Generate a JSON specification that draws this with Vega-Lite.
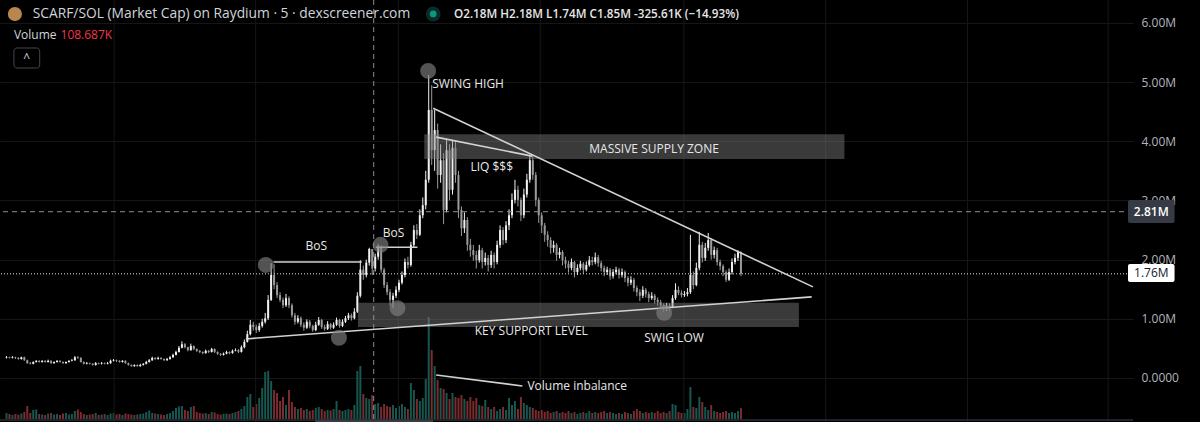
{
"$schema":"https://vega.github.io/schema/vega-lite/v6.json",
"width":1133,"height":422,
"autosize":{"type":"none"},
"padding":{"left":0,"top":0,"right":67,"bottom":0},
"background":"#000000",
"config":{"view":{"stroke":null},"font":"Open Sans"},
"datasets":{
"candles":[
{"i":0,"o":0.34,"h":0.37,"l":0.33,"c":0.35,"v":60},{"i":1,"o":0.35,"h":0.36,"l":0.33,"c":0.34,"v":50},{"i":2,"o":0.34,"h":0.37,"l":0.33,"c":0.35,"v":40},{"i":3,"o":0.35,"h":0.36,"l":0.32,"c":0.34,"v":50},{"i":4,"o":0.34,"h":0.35,"l":0.31,"c":0.32,"v":45},{"i":5,"o":0.32,"h":0.36,"l":0.31,"c":0.35,"v":55},{"i":6,"o":0.35,"h":0.36,"l":0.29,"c":0.30,"v":70},{"i":7,"o":0.30,"h":0.31,"l":0.24,"c":0.25,"v":130},{"i":8,"o":0.25,"h":0.27,"l":0.23,"c":0.24,"v":60},{"i":9,"o":0.24,"h":0.28,"l":0.23,"c":0.27,"v":90},
{"i":10,"o":0.27,"h":0.30,"l":0.26,"c":0.29,"v":95},{"i":11,"o":0.29,"h":0.30,"l":0.26,"c":0.27,"v":50},{"i":12,"o":0.27,"h":0.30,"l":0.26,"c":0.29,"v":45},{"i":13,"o":0.29,"h":0.30,"l":0.26,"c":0.27,"v":40},{"i":14,"o":0.27,"h":0.31,"l":0.26,"c":0.29,"v":55},{"i":15,"o":0.29,"h":0.30,"l":0.24,"c":0.25,"v":60},{"i":16,"o":0.25,"h":0.28,"l":0.24,"c":0.27,"v":45},{"i":17,"o":0.27,"h":0.30,"l":0.26,"c":0.29,"v":50},{"i":18,"o":0.29,"h":0.30,"l":0.26,"c":0.27,"v":40},{"i":19,"o":0.27,"h":0.28,"l":0.24,"c":0.25,"v":55},
{"i":20,"o":0.25,"h":0.28,"l":0.24,"c":0.27,"v":60},{"i":21,"o":0.27,"h":0.30,"l":0.26,"c":0.29,"v":45},{"i":22,"o":0.29,"h":0.32,"l":0.28,"c":0.30,"v":50},{"i":23,"o":0.30,"h":0.37,"l":0.29,"c":0.35,"v":80},{"i":24,"o":0.35,"h":0.37,"l":0.32,"c":0.34,"v":95},{"i":25,"o":0.34,"h":0.35,"l":0.26,"c":0.27,"v":70},{"i":26,"o":0.27,"h":0.28,"l":0.23,"c":0.24,"v":50},{"i":27,"o":0.24,"h":0.27,"l":0.23,"c":0.25,"v":40},{"i":28,"o":0.25,"h":0.26,"l":0.23,"c":0.24,"v":45},{"i":29,"o":0.24,"h":0.25,"l":0.21,"c":0.22,"v":50},
{"i":30,"o":0.22,"h":0.27,"l":0.21,"c":0.25,"v":60},{"i":31,"o":0.25,"h":0.26,"l":0.23,"c":0.24,"v":40},{"i":32,"o":0.24,"h":0.27,"l":0.23,"c":0.25,"v":45},{"i":33,"o":0.25,"h":0.26,"l":0.23,"c":0.24,"v":50},{"i":34,"o":0.24,"h":0.27,"l":0.23,"c":0.25,"v":40},{"i":35,"o":0.25,"h":0.31,"l":0.24,"c":0.29,"v":55},{"i":36,"o":0.29,"h":0.32,"l":0.28,"c":0.30,"v":60},{"i":37,"o":0.30,"h":0.31,"l":0.27,"c":0.29,"v":45},{"i":38,"o":0.29,"h":0.30,"l":0.26,"c":0.27,"v":50},{"i":39,"o":0.27,"h":0.30,"l":0.26,"c":0.29,"v":40},
{"i":40,"o":0.29,"h":0.30,"l":0.24,"c":0.25,"v":55},{"i":41,"o":0.25,"h":0.26,"l":0.21,"c":0.22,"v":50},{"i":42,"o":0.22,"h":0.23,"l":0.19,"c":0.20,"v":45},{"i":43,"o":0.20,"h":0.23,"l":0.19,"c":0.22,"v":40},{"i":44,"o":0.22,"h":0.23,"l":0.19,"c":0.20,"v":45},{"i":45,"o":0.20,"h":0.24,"l":0.19,"c":0.22,"v":50},{"i":46,"o":0.22,"h":0.25,"l":0.21,"c":0.24,"v":55},{"i":47,"o":0.24,"h":0.29,"l":0.23,"c":0.27,"v":70},{"i":48,"o":0.27,"h":0.32,"l":0.26,"c":0.30,"v":85},{"i":49,"o":0.30,"h":0.36,"l":0.29,"c":0.34,"v":60},
{"i":50,"o":0.34,"h":0.35,"l":0.31,"c":0.32,"v":55},{"i":51,"o":0.32,"h":0.36,"l":0.31,"c":0.34,"v":50},{"i":52,"o":0.34,"h":0.35,"l":0.31,"c":0.32,"v":45},{"i":53,"o":0.32,"h":0.33,"l":0.29,"c":0.30,"v":40},{"i":54,"o":0.30,"h":0.34,"l":0.29,"c":0.32,"v":50},{"i":55,"o":0.32,"h":0.37,"l":0.31,"c":0.35,"v":60},{"i":56,"o":0.35,"h":0.41,"l":0.34,"c":0.39,"v":80},{"i":57,"o":0.39,"h":0.46,"l":0.38,"c":0.44,"v":110},{"i":58,"o":0.44,"h":0.54,"l":0.43,"c":0.51,"v":125},{"i":59,"o":0.51,"h":0.62,"l":0.50,"c":0.57,"v":130},
{"i":60,"o":0.57,"h":0.59,"l":0.50,"c":0.52,"v":90},{"i":61,"o":0.52,"h":0.53,"l":0.45,"c":0.47,"v":80},{"i":62,"o":0.47,"h":0.58,"l":0.46,"c":0.54,"v":120},{"i":63,"o":0.54,"h":0.55,"l":0.47,"c":0.49,"v":130},{"i":64,"o":0.49,"h":0.50,"l":0.44,"c":0.46,"v":70},{"i":65,"o":0.46,"h":0.47,"l":0.42,"c":0.44,"v":60},{"i":66,"o":0.44,"h":0.45,"l":0.40,"c":0.42,"v":55},{"i":67,"o":0.42,"h":0.48,"l":0.41,"c":0.46,"v":60},{"i":68,"o":0.46,"h":0.47,"l":0.42,"c":0.44,"v":50},{"i":69,"o":0.44,"h":0.51,"l":0.43,"c":0.49,"v":70},
{"i":70,"o":0.49,"h":0.50,"l":0.42,"c":0.44,"v":65},{"i":71,"o":0.44,"h":0.45,"l":0.39,"c":0.41,"v":50},{"i":72,"o":0.41,"h":0.42,"l":0.37,"c":0.39,"v":45},{"i":73,"o":0.39,"h":0.43,"l":0.38,"c":0.41,"v":50},{"i":74,"o":0.41,"h":0.46,"l":0.40,"c":0.44,"v":55},{"i":75,"o":0.44,"h":0.45,"l":0.40,"c":0.42,"v":50},{"i":76,"o":0.42,"h":0.48,"l":0.41,"c":0.46,"v":60},{"i":77,"o":0.46,"h":0.50,"l":0.45,"c":0.47,"v":70},{"i":78,"o":0.47,"h":0.49,"l":0.42,"c":0.44,"v":80},{"i":79,"o":0.44,"h":0.55,"l":0.43,"c":0.52,"v":100},
{"i":80,"o":0.52,"h":0.65,"l":0.50,"c":0.61,"v":130},{"i":81,"o":0.61,"h":0.80,"l":0.60,"c":0.74,"v":220},{"i":82,"o":0.74,"h":0.98,"l":0.72,"c":0.90,"v":250},{"i":83,"o":0.90,"h":0.95,"l":0.80,"c":0.86,"v":120},{"i":84,"o":0.86,"h":0.90,"l":0.76,"c":0.81,"v":150},{"i":85,"o":0.81,"h":0.93,"l":0.78,"c":0.88,"v":210},{"i":86,"o":0.88,"h":1.00,"l":0.85,"c":0.95,"v":310},{"i":87,"o":0.95,"h":1.10,"l":0.92,"c":1.01,"v":470},{"i":88,"o":1.01,"h":1.40,"l":0.98,"c":1.32,"v":480},{"i":89,"o":1.32,"h":1.94,"l":1.30,"c":1.74,"v":380},
{"i":90,"o":1.74,"h":1.92,"l":1.50,"c":1.57,"v":290},{"i":91,"o":1.57,"h":1.62,"l":1.35,"c":1.40,"v":260},{"i":92,"o":1.40,"h":1.45,"l":1.28,"c":1.32,"v":180},{"i":93,"o":1.32,"h":1.36,"l":1.18,"c":1.23,"v":220},{"i":94,"o":1.23,"h":1.42,"l":1.20,"c":1.35,"v":140},{"i":95,"o":1.35,"h":1.38,"l":1.18,"c":1.23,"v":290},{"i":96,"o":1.23,"h":1.26,"l":1.02,"c":1.06,"v":170},{"i":97,"o":1.06,"h":1.10,"l":0.90,"c":0.95,"v":120},{"i":98,"o":0.95,"h":1.06,"l":0.92,"c":1.01,"v":100},{"i":99,"o":1.01,"h":1.04,"l":0.86,"c":0.90,"v":110},
{"i":100,"o":0.90,"h":0.94,"l":0.80,"c":0.85,"v":90},{"i":101,"o":0.85,"h":0.99,"l":0.83,"c":0.95,"v":100},{"i":102,"o":0.95,"h":0.98,"l":0.84,"c":0.88,"v":80},{"i":103,"o":0.88,"h":0.90,"l":0.78,"c":0.81,"v":90},{"i":104,"o":0.81,"h":0.95,"l":0.79,"c":0.90,"v":110},{"i":105,"o":0.90,"h":1.03,"l":0.88,"c":0.98,"v":120},{"i":106,"o":0.98,"h":1.00,"l":0.83,"c":0.86,"v":100},{"i":107,"o":0.86,"h":0.90,"l":0.80,"c":0.83,"v":80},{"i":108,"o":0.83,"h":0.96,"l":0.81,"c":0.91,"v":90},{"i":109,"o":0.91,"h":0.93,"l":0.82,"c":0.85,"v":85},
{"i":110,"o":0.85,"h":0.94,"l":0.83,"c":0.90,"v":100},{"i":111,"o":0.90,"h":1.02,"l":0.88,"c":0.98,"v":180},{"i":112,"o":0.98,"h":1.00,"l":0.85,"c":0.88,"v":90},{"i":113,"o":0.88,"h":0.99,"l":0.86,"c":0.95,"v":80},{"i":114,"o":0.95,"h":1.05,"l":0.93,"c":1.01,"v":90},{"i":115,"o":1.01,"h":1.10,"l":0.98,"c":1.06,"v":100},{"i":116,"o":1.06,"h":1.09,"l":0.97,"c":1.01,"v":90},{"i":117,"o":1.01,"h":1.18,"l":0.99,"c":1.12,"v":140},{"i":118,"o":1.12,"h":1.45,"l":1.10,"c":1.39,"v":480},{"i":119,"o":1.39,"h":1.99,"l":1.36,"c":1.83,"v":530},
{"i":120,"o":1.83,"h":1.90,"l":1.66,"c":1.74,"v":250},{"i":121,"o":1.74,"h":2.00,"l":1.70,"c":1.95,"v":210},{"i":122,"o":1.95,"h":2.20,"l":1.90,"c":2.18,"v":200},{"i":123,"o":2.18,"h":2.18,"l":1.74,"c":1.85,"v":240},{"i":124,"o":1.85,"h":2.10,"l":1.80,"c":2.05,"v":150},{"i":125,"o":2.05,"h":2.26,"l":2.00,"c":2.22,"v":160},{"i":126,"o":2.22,"h":2.24,"l":1.78,"c":1.83,"v":120},{"i":127,"o":1.83,"h":1.86,"l":1.52,"c":1.57,"v":150},{"i":128,"o":1.57,"h":1.62,"l":1.40,"c":1.45,"v":130},{"i":129,"o":1.45,"h":1.50,"l":1.22,"c":1.32,"v":120},
{"i":130,"o":1.32,"h":1.44,"l":1.18,"c":1.39,"v":140},{"i":131,"o":1.39,"h":1.55,"l":1.35,"c":1.49,"v":110},{"i":132,"o":1.49,"h":1.66,"l":1.45,"c":1.61,"v":130},{"i":133,"o":1.61,"h":1.80,"l":1.58,"c":1.74,"v":150},{"i":134,"o":1.74,"h":2.02,"l":1.70,"c":1.96,"v":120},{"i":135,"o":1.96,"h":2.05,"l":1.85,"c":1.91,"v":100},{"i":136,"o":1.91,"h":2.30,"l":1.88,"c":2.25,"v":360},{"i":137,"o":2.25,"h":2.58,"l":2.20,"c":2.50,"v":290},{"i":138,"o":2.50,"h":2.60,"l":2.35,"c":2.42,"v":200},{"i":139,"o":2.42,"h":2.85,"l":2.40,"c":2.75,"v":180},
{"i":140,"o":2.75,"h":3.05,"l":2.70,"c":2.92,"v":210},{"i":141,"o":2.92,"h":3.50,"l":2.85,"c":3.35,"v":400},{"i":142,"o":3.35,"h":5.12,"l":3.30,"c":4.53,"v":1020},{"i":143,"o":4.53,"h":4.95,"l":3.60,"c":3.85,"v":690},{"i":144,"o":3.85,"h":4.53,"l":3.50,"c":4.19,"v":530},{"i":145,"o":4.19,"h":4.30,"l":3.20,"c":3.43,"v":390},{"i":146,"o":3.43,"h":3.95,"l":3.30,"c":3.68,"v":310},{"i":147,"o":3.68,"h":3.80,"l":2.60,"c":2.84,"v":300},{"i":148,"o":2.84,"h":4.02,"l":2.80,"c":3.85,"v":260},{"i":149,"o":3.85,"h":3.95,"l":3.00,"c":3.18,"v":200},
{"i":150,"o":3.18,"h":4.02,"l":3.10,"c":3.89,"v":260},{"i":151,"o":3.89,"h":4.00,"l":3.30,"c":3.43,"v":220},{"i":152,"o":3.43,"h":3.50,"l":2.70,"c":2.84,"v":210},{"i":153,"o":2.84,"h":2.90,"l":2.40,"c":2.53,"v":240},{"i":154,"o":2.53,"h":2.80,"l":2.45,"c":2.67,"v":200},{"i":155,"o":2.67,"h":2.72,"l":2.15,"c":2.25,"v":180},{"i":156,"o":2.25,"h":2.35,"l":2.05,"c":2.16,"v":220},{"i":157,"o":2.16,"h":2.25,"l":1.98,"c":2.08,"v":180},{"i":158,"o":2.08,"h":2.15,"l":1.85,"c":1.99,"v":210},{"i":159,"o":1.99,"h":2.25,"l":1.95,"c":2.16,"v":140},
{"i":160,"o":2.16,"h":2.20,"l":1.85,"c":1.96,"v":130},{"i":161,"o":1.96,"h":2.12,"l":1.90,"c":2.03,"v":190},{"i":162,"o":2.03,"h":2.08,"l":1.80,"c":1.91,"v":120},{"i":163,"o":1.91,"h":2.15,"l":1.86,"c":2.08,"v":100},{"i":164,"o":2.08,"h":2.12,"l":1.85,"c":1.96,"v":120},{"i":165,"o":1.96,"h":2.32,"l":1.92,"c":2.25,"v":80},{"i":166,"o":2.25,"h":2.58,"l":2.20,"c":2.50,"v":100},{"i":167,"o":2.50,"h":2.55,"l":2.25,"c":2.33,"v":120},{"i":168,"o":2.33,"h":2.65,"l":2.28,"c":2.58,"v":90},{"i":169,"o":2.58,"h":2.85,"l":2.50,"c":2.75,"v":210},
{"i":170,"o":2.75,"h":3.12,"l":2.70,"c":3.01,"v":140},{"i":171,"o":3.01,"h":3.35,"l":2.95,"c":3.18,"v":180},{"i":172,"o":3.18,"h":3.25,"l":2.90,"c":3.01,"v":100},{"i":173,"o":3.01,"h":3.05,"l":2.65,"c":2.75,"v":220},{"i":174,"o":2.75,"h":3.20,"l":2.70,"c":3.10,"v":160},{"i":175,"o":3.10,"h":3.45,"l":3.05,"c":3.35,"v":140},{"i":176,"o":3.35,"h":3.75,"l":3.30,"c":3.68,"v":120},{"i":177,"o":3.68,"h":3.77,"l":3.35,"c":3.43,"v":110},{"i":178,"o":3.43,"h":3.48,"l":2.90,"c":3.01,"v":90},{"i":179,"o":3.01,"h":3.05,"l":2.62,"c":2.75,"v":80},
{"i":180,"o":2.75,"h":2.80,"l":2.45,"c":2.58,"v":90},{"i":181,"o":2.58,"h":2.62,"l":2.30,"c":2.42,"v":70},{"i":182,"o":2.42,"h":2.48,"l":2.22,"c":2.33,"v":80},{"i":183,"o":2.33,"h":2.38,"l":2.10,"c":2.20,"v":60},{"i":184,"o":2.20,"h":2.32,"l":2.12,"c":2.25,"v":70},{"i":185,"o":2.25,"h":2.28,"l":1.98,"c":2.08,"v":80},{"i":186,"o":2.08,"h":2.20,"l":2.02,"c":2.13,"v":60},{"i":187,"o":2.13,"h":2.16,"l":1.90,"c":1.99,"v":70},{"i":188,"o":1.99,"h":2.05,"l":1.85,"c":1.93,"v":60},{"i":189,"o":1.93,"h":1.98,"l":1.78,"c":1.86,"v":80},
{"i":190,"o":1.86,"h":2.02,"l":1.82,"c":1.96,"v":60},{"i":191,"o":1.96,"h":1.98,"l":1.70,"c":1.79,"v":70},{"i":192,"o":1.79,"h":1.92,"l":1.74,"c":1.86,"v":50},{"i":193,"o":1.86,"h":1.98,"l":1.82,"c":1.93,"v":60},{"i":194,"o":1.93,"h":1.96,"l":1.76,"c":1.83,"v":70},{"i":195,"o":1.83,"h":1.97,"l":1.80,"c":1.91,"v":60},{"i":196,"o":1.91,"h":2.06,"l":1.88,"c":1.99,"v":80},{"i":197,"o":1.99,"h":2.05,"l":1.90,"c":1.96,"v":60},{"i":198,"o":1.96,"h":2.12,"l":1.92,"c":2.04,"v":70},{"i":199,"o":2.04,"h":2.08,"l":1.88,"c":1.94,"v":60},
{"i":200,"o":1.94,"h":1.98,"l":1.80,"c":1.86,"v":70},{"i":201,"o":1.86,"h":1.90,"l":1.72,"c":1.79,"v":80},{"i":202,"o":1.79,"h":1.88,"l":1.74,"c":1.83,"v":60},{"i":203,"o":1.83,"h":1.86,"l":1.66,"c":1.72,"v":70},{"i":204,"o":1.72,"h":1.84,"l":1.68,"c":1.79,"v":60},{"i":205,"o":1.79,"h":1.88,"l":1.75,"c":1.83,"v":50},{"i":206,"o":1.83,"h":1.86,"l":1.68,"c":1.74,"v":60},{"i":207,"o":1.74,"h":1.85,"l":1.70,"c":1.79,"v":50},{"i":208,"o":1.79,"h":1.82,"l":1.62,"c":1.69,"v":70},{"i":209,"o":1.69,"h":1.72,"l":1.55,"c":1.61,"v":60},
{"i":210,"o":1.61,"h":1.72,"l":1.57,"c":1.66,"v":50},{"i":211,"o":1.66,"h":1.69,"l":1.46,"c":1.52,"v":80},{"i":212,"o":1.52,"h":1.56,"l":1.38,"c":1.45,"v":100},{"i":213,"o":1.45,"h":1.50,"l":1.30,"c":1.39,"v":80},{"i":214,"o":1.39,"h":1.55,"l":1.35,"c":1.49,"v":60},{"i":215,"o":1.49,"h":1.52,"l":1.36,"c":1.42,"v":70},{"i":216,"o":1.42,"h":1.46,"l":1.28,"c":1.35,"v":60},{"i":217,"o":1.35,"h":1.45,"l":1.32,"c":1.39,"v":70},{"i":218,"o":1.39,"h":1.42,"l":1.26,"c":1.32,"v":60},{"i":219,"o":1.32,"h":1.36,"l":1.22,"c":1.28,"v":80},
{"i":220,"o":1.28,"h":1.32,"l":1.18,"c":1.23,"v":60},{"i":221,"o":1.23,"h":1.26,"l":1.12,"c":1.18,"v":70},{"i":222,"o":1.18,"h":1.27,"l":1.13,"c":1.22,"v":60},{"i":223,"o":1.22,"h":1.26,"l":1.14,"c":1.20,"v":80},{"i":224,"o":1.20,"h":1.40,"l":1.18,"c":1.35,"v":150},{"i":225,"o":1.35,"h":1.60,"l":1.32,"c":1.49,"v":140},{"i":226,"o":1.49,"h":1.55,"l":1.40,"c":1.44,"v":70},{"i":227,"o":1.44,"h":1.48,"l":1.36,"c":1.40,"v":60},{"i":228,"o":1.40,"h":1.47,"l":1.37,"c":1.42,"v":60},{"i":229,"o":1.42,"h":1.52,"l":1.38,"c":1.45,"v":100},
{"i":230,"o":1.45,"h":2.42,"l":1.42,"c":1.74,"v":320},{"i":231,"o":1.74,"h":1.80,"l":1.50,"c":1.57,"v":120},{"i":232,"o":1.57,"h":1.95,"l":1.55,"c":1.86,"v":110},{"i":233,"o":1.86,"h":2.47,"l":1.82,"c":2.25,"v":220},{"i":234,"o":2.25,"h":2.30,"l":1.95,"c":2.03,"v":170},{"i":235,"o":2.03,"h":2.28,"l":1.98,"c":2.20,"v":120},{"i":236,"o":2.20,"h":2.45,"l":2.15,"c":2.33,"v":90},{"i":237,"o":2.33,"h":2.36,"l":2.00,"c":2.08,"v":140},{"i":238,"o":2.08,"h":2.22,"l":2.02,"c":2.16,"v":80},{"i":239,"o":2.16,"h":2.20,"l":1.90,"c":1.96,"v":70},
{"i":240,"o":1.96,"h":2.00,"l":1.82,"c":1.89,"v":60},{"i":241,"o":1.89,"h":1.92,"l":1.72,"c":1.79,"v":70},{"i":242,"o":1.79,"h":1.82,"l":1.62,"c":1.66,"v":80},{"i":243,"o":1.66,"h":1.85,"l":1.64,"c":1.79,"v":60},{"i":244,"o":1.79,"h":2.02,"l":1.75,"c":1.96,"v":70},{"i":245,"o":1.96,"h":2.10,"l":1.92,"c":2.03,"v":60},{"i":246,"o":2.03,"h":2.16,"l":1.98,"c":2.13,"v":80},{"i":247,"o":2.13,"h":2.14,"l":1.72,"c":1.76,"v":109}
],
"vgrid":[{"x":36.2},{"x":83.8},{"x":131.8},{"x":179.5},{"x":227.8},{"x":275.5},{"x":323.2},{"x":370.5}],
"zones":[{"x1":140.5,"x2":281.8,"y1":4.12,"y2":3.70},{"x1":118.2,"x2":266.5,"y1":1.27,"y2":0.86}],
"segments":[
{"kind":"trend","x1":80.5,"y1":0.66,"x2":270.8,"y2":1.37},
{"kind":"trend","x1":143.5,"y1":4.56,"x2":271.2,"y2":1.54},
{"kind":"liq","x1":144.5,"y1":4.07,"x2":176.8,"y2":3.75},
{"kind":"bos","x1":89.8,"y1":1.96,"x2":119.5,"y2":1.96},
{"kind":"bos","x1":124.2,"y1":2.21,"x2":138.2,"y2":2.21},
{"kind":"vol","x1":144.5,"y1":0.05,"x2":173.5,"y2":-0.135}
],
"circles":[{"x":87.2,"y":1.91},{"x":125.8,"y":2.25},{"x":131.5,"y":1.18},{"x":111.8,"y":0.68},{"x":141.8,"y":5.19},{"x":221.2,"y":1.10}],
"labelsCenter":[
{"t":"BoS","x":104.2,"y":2.23},{"t":"BoS","x":130.2,"y":2.45},{"t":"LIQ $$$","x":163.2,"y":3.57},
{"t":"MASSIVE SUPPLY ZONE","x":217.8,"y":3.87},{"t":"KEY SUPPORT LEVEL","x":176.5,"y":0.79},{"t":"SWIG LOW","x":224.5,"y":0.68}
],
"labelsLeft":[{"t":"SWING HIGH","x":143.2,"y":4.97},{"t":"Volume inbalance","x":175.2,"y":-0.135}],
"header":[{"t":"SCARF/SOL (Market Cap) on Raydium · 5 · dexscreener.com","x":8.83,"y":6.152}],
"ohlc":[{"t":"O2.18M H2.18M L1.74M C1.85M -325.61K (−14.93%)","x":150.5,"y":6.152}],
"volname":[{"t":"Volume","x":2.5,"y":5.797}],
"volvalue":[{"t":"108.687K","x":18.17,"y":5.797}],
"button":[{"x1":2.5,"x2":11.17,"y1":5.577,"y2":5.239,"xm":6.83,"ym":5.40,"t":"^"}],
"coin":[{"x":2.83,"y":6.152}],
"live":[{"x":143.5,"y":6.152}],
"crossH":[{"y":2.81}],
"crossV":[{"x":123.5}],
"priceLine":[{"y":1.76}],
"bottom":[{"y":-0.71}],
"timebox":[{"x1":103.8,"x2":143.5,"y1":-0.70,"y2":-0.75}],
"badgeDark":[{"x1":377.17,"x2":392.83,"y1":3.008,"y2":2.62,"xm":385,"t":"2.81M","ym":2.81}],
"badgeLight":[{"x1":377.17,"x2":392.83,"y1":1.927,"y2":1.622,"xm":385,"t":"1.76M","ym":1.775}]
},
"layer":[
{
"data":{"name":"candles"},
"mark":{"type":"bar","size":2,"orient":"vertical"},
"encoding":{
"x":{"field":"i","type":"quantitative","scale":{"domain":[-0.5,377.17],"nice":false,"zero":false},"axis":null},
"y":{"field":"v","type":"quantitative","scale":{"domain":[-30,4190],"nice":false,"zero":false},"axis":null},
"y2":{"datum":0},
"color":{"condition":{"test":"datum.c >= datum.o","value":"#17574f"},"value":"#7c2b2e"}
}
},
{
"layer":[
{
"data":{"name":"vgrid"},
"mark":{"type":"rule","color":"#161616","strokeWidth":1},
"encoding":{"x":{"field":"x","type":"quantitative","scale":{"domain":[-0.5,377.17],"nice":false,"zero":false},"axis":null}}
},
{
"data":{"name":"candles"},
"mark":{"type":"rule","strokeWidth":1},
"encoding":{
"x":{"field":"i","type":"quantitative","scale":{"domain":[-0.5,377.17],"nice":false,"zero":false},"axis":null},
"y":{"field":"l","type":"quantitative","scale":{"domain":[-0.744,6.388],"nice":false,"zero":false},
"axis":{"orient":"right","values":[0,1,2,3,4,5,6],"labelExpr":"datum.value == 0 ? '0.0000' : format(datum.value, '.2f') + 'M'","grid":true,"gridColor":"#161616","domain":false,"ticks":false,"labelPadding":8,"labelColor":"#b2b5be","labelFontSize":12,"labelFont":"Open Sans","title":null,"labelBaseline":"middle"}},
"y2":{"field":"h"},
"color":{"condition":{"test":"datum.c >= datum.o","value":"#f0f0f0"},"value":"#9a9a9a"}
}
},
{
"data":{"name":"candles"},
"mark":{"type":"bar","size":2,"orient":"vertical"},
"encoding":{
"x":{"field":"i","type":"quantitative","scale":{"domain":[-0.5,377.17],"nice":false,"zero":false},"axis":null},
"y":{"field":"o","type":"quantitative","scale":{"domain":[-0.744,6.388],"nice":false,"zero":false}},
"y2":{"field":"c"},
"color":{"condition":{"test":"datum.c >= datum.o","value":"#f0f0f0"},"value":"#9a9a9a"}
}
},
{
"data":{"name":"zones"},
"mark":{"type":"rect","color":"#808080","opacity":0.45},
"encoding":{
"x":{"field":"x1","type":"quantitative","scale":{"domain":[-0.5,377.17],"nice":false,"zero":false},"axis":null},
"x2":{"field":"x2"},
"y":{"field":"y1","type":"quantitative","scale":{"domain":[-0.744,6.388],"nice":false,"zero":false}},
"y2":{"field":"y2"}
}
},
{
"data":{"name":"segments"},
"mark":{"type":"rule","strokeWidth":1.6,"color":"#d2d2d2"},
"encoding":{
"x":{"field":"x1","type":"quantitative","scale":{"domain":[-0.5,377.17],"nice":false,"zero":false},"axis":null},
"x2":{"field":"x2"},
"y":{"field":"y1","type":"quantitative","scale":{"domain":[-0.744,6.388],"nice":false,"zero":false}},
"y2":{"field":"y2"}
}
},
{
"data":{"name":"circles"},
"mark":{"type":"circle","size":254,"color":"#808080","opacity":0.65},
"encoding":{
"x":{"field":"x","type":"quantitative","scale":{"domain":[-0.5,377.17],"nice":false,"zero":false},"axis":null},
"y":{"field":"y","type":"quantitative","scale":{"domain":[-0.744,6.388],"nice":false,"zero":false}}
}
},
{
"data":{"name":"crossH"},
"mark":{"type":"rule","color":"#8a8d96","strokeDash":[5,4],"strokeWidth":1},
"encoding":{"y":{"field":"y","type":"quantitative","scale":{"domain":[-0.744,6.388],"nice":false,"zero":false}}}
},
{
"data":{"name":"crossV"},
"mark":{"type":"rule","color":"#8a8d96","strokeDash":[5,4],"strokeWidth":1},
"encoding":{"x":{"field":"x","type":"quantitative","scale":{"domain":[-0.5,377.17],"nice":false,"zero":false},"axis":null}}
},
{
"data":{"name":"priceLine"},
"mark":{"type":"rule","color":"#e0e0e0","strokeDash":[1,2],"strokeWidth":1},
"encoding":{"y":{"field":"y","type":"quantitative","scale":{"domain":[-0.744,6.388],"nice":false,"zero":false}}}
},
{
"data":{"name":"bottom"},
"mark":{"type":"rule","color":"#2a2e39","strokeWidth":1.5},
"encoding":{"y":{"field":"y","type":"quantitative","scale":{"domain":[-0.744,6.388],"nice":false,"zero":false}}}
},
{
"data":{"name":"timebox"},
"mark":{"type":"rect","color":"#363a45"},
"encoding":{
"x":{"field":"x1","type":"quantitative","scale":{"domain":[-0.5,377.17],"nice":false,"zero":false},"axis":null},
"x2":{"field":"x2"},
"y":{"field":"y1","type":"quantitative","scale":{"domain":[-0.744,6.388],"nice":false,"zero":false}},
"y2":{"field":"y2"}
}
},
{
"data":{"name":"labelsCenter"},
"mark":{"type":"text","align":"center","baseline":"middle","fontSize":12,"color":"#e8e8e8","font":"Open Sans"},
"encoding":{
"x":{"field":"x","type":"quantitative","scale":{"domain":[-0.5,377.17],"nice":false,"zero":false},"axis":null},
"y":{"field":"y","type":"quantitative","scale":{"domain":[-0.744,6.388],"nice":false,"zero":false}},
"text":{"field":"t"}
}
},
{
"data":{"name":"labelsLeft"},
"mark":{"type":"text","align":"left","baseline":"middle","fontSize":12,"color":"#e8e8e8","font":"Open Sans"},
"encoding":{
"x":{"field":"x","type":"quantitative","scale":{"domain":[-0.5,377.17],"nice":false,"zero":false},"axis":null},
"y":{"field":"y","type":"quantitative","scale":{"domain":[-0.744,6.388],"nice":false,"zero":false}},
"text":{"field":"t"}
}
},
{
"data":{"name":"coin"},
"mark":{"type":"circle","size":200,"color":"#b8864e","opacity":1},
"encoding":{
"x":{"field":"x","type":"quantitative","scale":{"domain":[-0.5,377.17],"nice":false,"zero":false},"axis":null},
"y":{"field":"y","type":"quantitative","scale":{"domain":[-0.744,6.388],"nice":false,"zero":false}}
}
},
{
"data":{"name":"live"},
"mark":{"type":"circle","size":220,"color":"#0d2b26","opacity":1},
"encoding":{
"x":{"field":"x","type":"quantitative","scale":{"domain":[-0.5,377.17],"nice":false,"zero":false},"axis":null},
"y":{"field":"y","type":"quantitative","scale":{"domain":[-0.744,6.388],"nice":false,"zero":false}}
}
},
{
"data":{"name":"live"},
"mark":{"type":"circle","size":45,"color":"#089981","opacity":1},
"encoding":{
"x":{"field":"x","type":"quantitative","scale":{"domain":[-0.5,377.17],"nice":false,"zero":false},"axis":null},
"y":{"field":"y","type":"quantitative","scale":{"domain":[-0.744,6.388],"nice":false,"zero":false}}
}
},
{
"data":{"name":"header"},
"mark":{"type":"text","align":"left","baseline":"middle","fontSize":13.8,"color":"#d1d4dc","font":"Open Sans"},
"encoding":{
"x":{"field":"x","type":"quantitative","scale":{"domain":[-0.5,377.17],"nice":false,"zero":false},"axis":null},
"y":{"field":"y","type":"quantitative","scale":{"domain":[-0.744,6.388],"nice":false,"zero":false}},
"text":{"field":"t"}
}
},
{
"data":{"name":"ohlc"},
"mark":{"type":"text","align":"left","baseline":"middle","fontSize":11.7,"color":"#e6e6e6","font":"Open Sans","fontWeight":600},
"encoding":{
"x":{"field":"x","type":"quantitative","scale":{"domain":[-0.5,377.17],"nice":false,"zero":false},"axis":null},
"y":{"field":"y","type":"quantitative","scale":{"domain":[-0.744,6.388],"nice":false,"zero":false}},
"text":{"field":"t"}
}
},
{
"data":{"name":"volname"},
"mark":{"type":"text","align":"left","baseline":"middle","fontSize":12,"color":"#d1d4dc","font":"Open Sans"},
"encoding":{
"x":{"field":"x","type":"quantitative","scale":{"domain":[-0.5,377.17],"nice":false,"zero":false},"axis":null},
"y":{"field":"y","type":"quantitative","scale":{"domain":[-0.744,6.388],"nice":false,"zero":false}},
"text":{"field":"t"}
}
},
{
"data":{"name":"volvalue"},
"mark":{"type":"text","align":"left","baseline":"middle","fontSize":12,"color":"#f23645","font":"Open Sans"},
"encoding":{
"x":{"field":"x","type":"quantitative","scale":{"domain":[-0.5,377.17],"nice":false,"zero":false},"axis":null},
"y":{"field":"y","type":"quantitative","scale":{"domain":[-0.744,6.388],"nice":false,"zero":false}},
"text":{"field":"t"}
}
},
{
"data":{"name":"button"},
"mark":{"type":"rect","fill":"#000000","stroke":"#434651","strokeWidth":1,"cornerRadius":3},
"encoding":{
"x":{"field":"x1","type":"quantitative","scale":{"domain":[-0.5,377.17],"nice":false,"zero":false},"axis":null},
"x2":{"field":"x2"},
"y":{"field":"y1","type":"quantitative","scale":{"domain":[-0.744,6.388],"nice":false,"zero":false}},
"y2":{"field":"y2"}
}
},
{
"data":{"name":"button"},
"mark":{"type":"text","align":"center","baseline":"middle","fontSize":12,"color":"#d1d4dc","font":"Open Sans"},
"encoding":{
"x":{"field":"xm","type":"quantitative","scale":{"domain":[-0.5,377.17],"nice":false,"zero":false},"axis":null},
"y":{"field":"ym","type":"quantitative","scale":{"domain":[-0.744,6.388],"nice":false,"zero":false}},
"text":{"field":"t"}
}
},
{
"data":{"name":"badgeDark"},
"mark":{"type":"rect","color":"#363a45","cornerRadius":2},
"encoding":{
"x":{"field":"x1","type":"quantitative","scale":{"domain":[-0.5,377.17],"nice":false,"zero":false},"axis":null},
"x2":{"field":"x2"},
"y":{"field":"y1","type":"quantitative","scale":{"domain":[-0.744,6.388],"nice":false,"zero":false}},
"y2":{"field":"y2"}
}
},
{
"data":{"name":"badgeDark"},
"mark":{"type":"text","align":"center","baseline":"middle","fontSize":12,"color":"#ffffff","font":"Open Sans","fontWeight":600},
"encoding":{
"x":{"field":"xm","type":"quantitative","scale":{"domain":[-0.5,377.17],"nice":false,"zero":false},"axis":null},
"y":{"field":"ym","type":"quantitative","scale":{"domain":[-0.744,6.388],"nice":false,"zero":false}},
"text":{"field":"t"}
}
},
{
"data":{"name":"badgeLight"},
"mark":{"type":"rect","color":"#ffffff","cornerRadius":2},
"encoding":{
"x":{"field":"x1","type":"quantitative","scale":{"domain":[-0.5,377.17],"nice":false,"zero":false},"axis":null},
"x2":{"field":"x2"},
"y":{"field":"y1","type":"quantitative","scale":{"domain":[-0.744,6.388],"nice":false,"zero":false}},
"y2":{"field":"y2"}
}
},
{
"data":{"name":"badgeLight"},
"mark":{"type":"text","align":"center","baseline":"middle","fontSize":12,"color":"#131722","font":"Open Sans"},
"encoding":{
"x":{"field":"xm","type":"quantitative","scale":{"domain":[-0.5,377.17],"nice":false,"zero":false},"axis":null},
"y":{"field":"ym","type":"quantitative","scale":{"domain":[-0.744,6.388],"nice":false,"zero":false}},
"text":{"field":"t"}
}
}
]
}
],
"resolve":{"scale":{"y":"independent"}}
}
